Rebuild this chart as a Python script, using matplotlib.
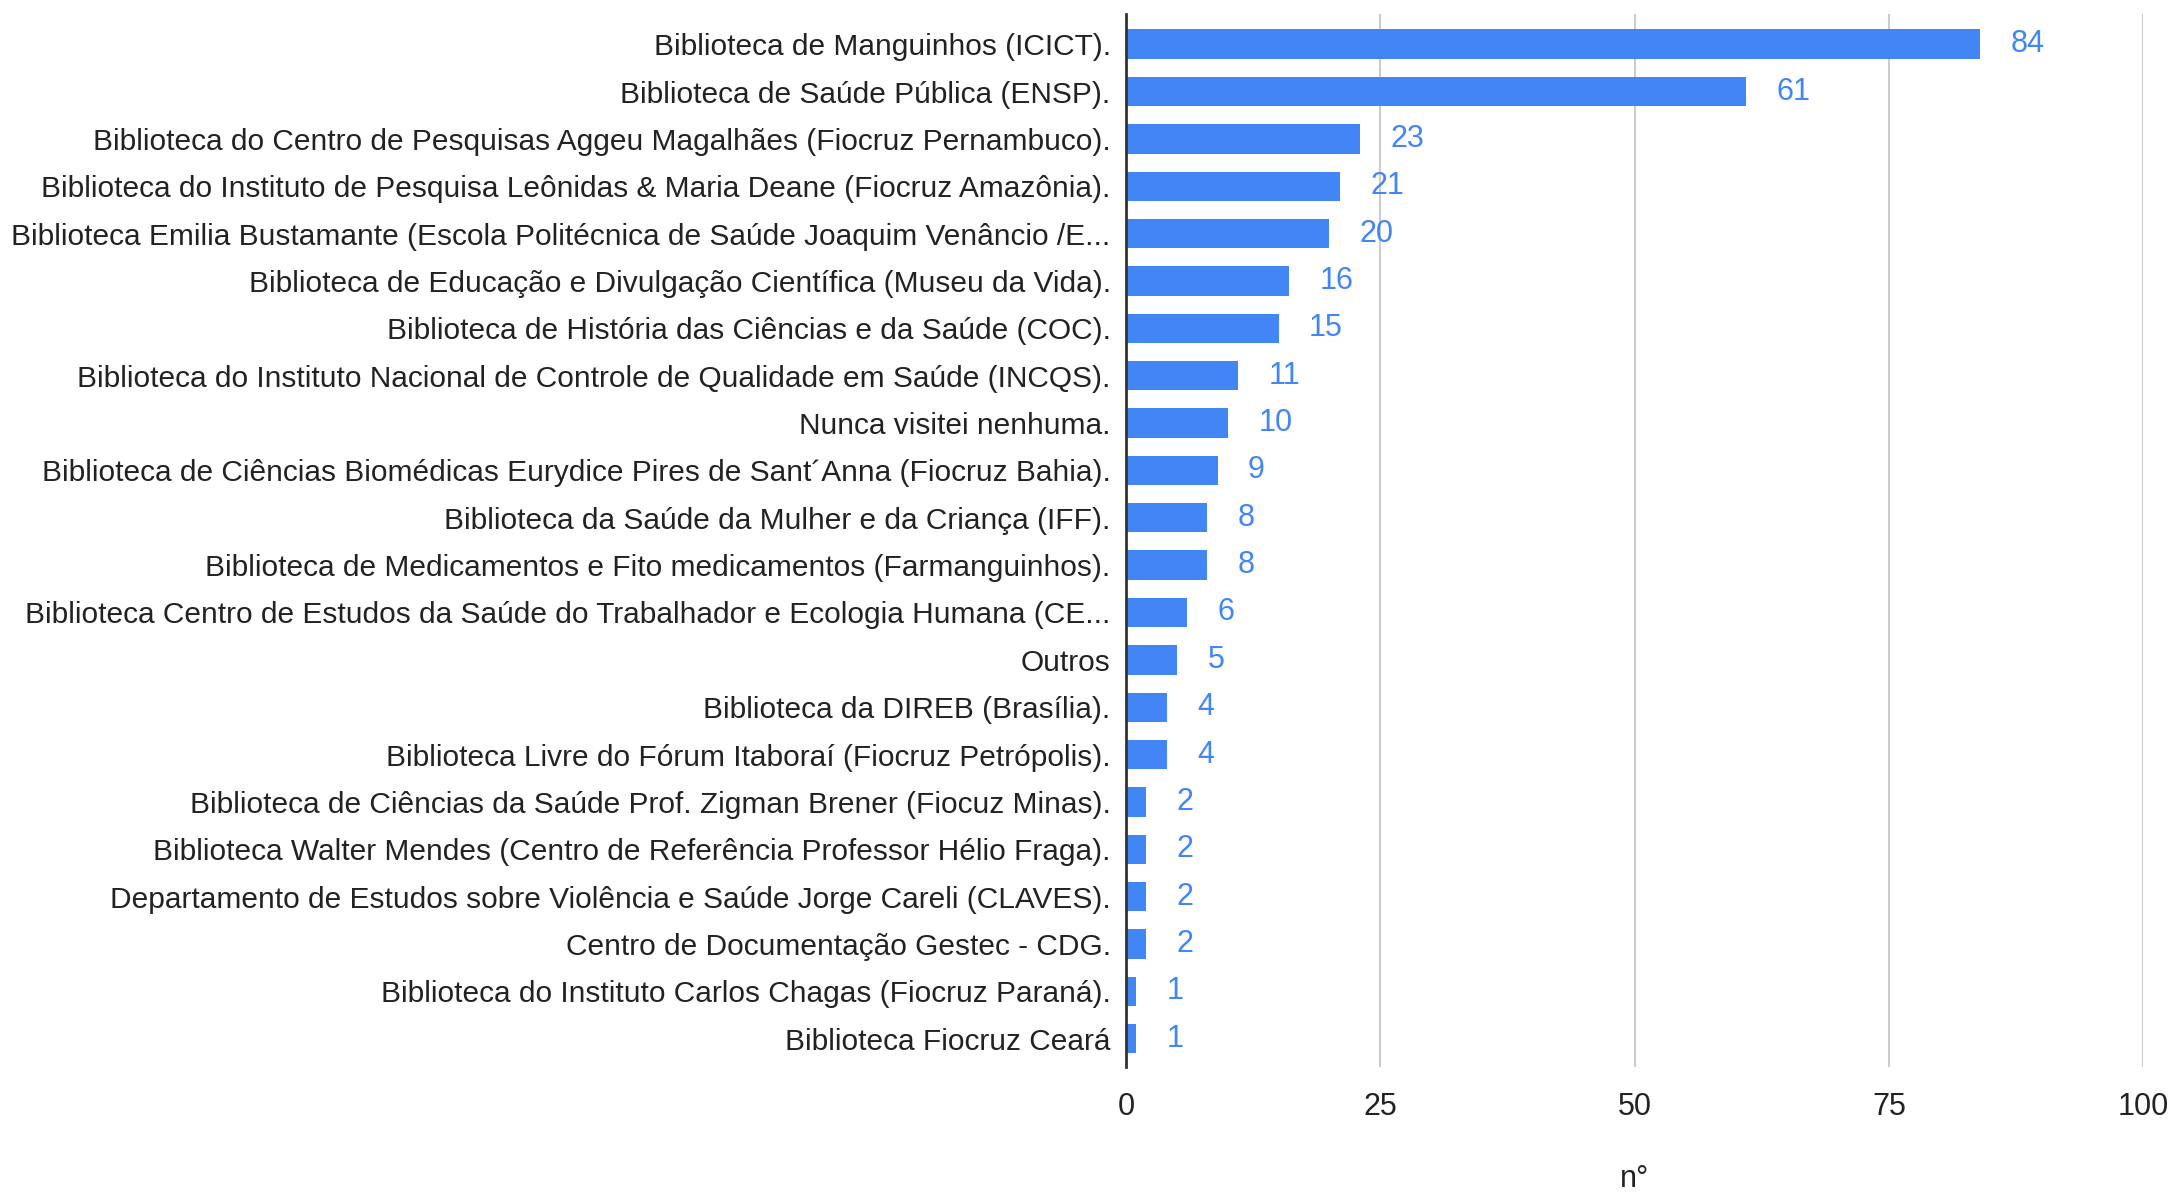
import matplotlib.pyplot as plt
from matplotlib import font_manager

labels = [
    "Biblioteca de Manguinhos (ICICT).",
    "Biblioteca de Saúde Pública (ENSP).",
    "Biblioteca do Centro de Pesquisas Aggeu Magalhães (Fiocruz Pernambuco).",
    "Biblioteca do Instituto de Pesquisa Leônidas & Maria Deane (Fiocruz Amazônia).",
    "Biblioteca Emilia Bustamante (Escola Politécnica de Saúde Joaquim Venâncio /E...",
    "Biblioteca de Educação e Divulgação Científica (Museu da Vida).",
    "Biblioteca de História das Ciências e da Saúde (COC).",
    "Biblioteca do Instituto Nacional de Controle de Qualidade em Saúde (INCQS).",
    "Nunca visitei nenhuma.",
    "Biblioteca de Ciências Biomédicas Eurydice Pires de Sant´Anna (Fiocruz Bahia).",
    "Biblioteca da Saúde da Mulher e da Criança (IFF).",
    "Biblioteca de Medicamentos e Fito medicamentos (Farmanguinhos).",
    "Biblioteca Centro de Estudos da Saúde do Trabalhador e Ecologia Humana (CE...",
    "Outros",
    "Biblioteca da DIREB (Brasília).",
    "Biblioteca Livre do Fórum Itaboraí (Fiocruz Petrópolis).",
    "Biblioteca de Ciências da Saúde Prof. Zigman Brener (Fiocuz Minas).",
    "Biblioteca Walter Mendes (Centro de Referência Professor Hélio Fraga).",
    "Departamento de Estudos sobre Violência e Saúde Jorge Careli (CLAVES).",
    "Centro de Documentação Gestec - CDG.",
    "Biblioteca do Instituto Carlos Chagas (Fiocruz Paraná).",
    "Biblioteca Fiocruz Ceará",
]
values = [84, 61, 23, 21, 20, 16, 15, 11, 10, 9, 8, 8, 6, 5, 4, 4, 2, 2, 2, 2, 1, 1]
xticks = [0, 25, 50, 75, 100]

names = {f.name for f in font_manager.fontManager.ttflist}
family = "Liberation Sans Narrow" if "Liberation Sans Narrow" in names else "Liberation Sans"
plt.rcParams["font.family"] = [family, "DejaVu Sans"]

fig = plt.figure(figsize=(21.72, 11.95), dpi=100)
ax = fig.add_axes([0.5184, 0.107, 0.4683, 0.881])

pos = list(range(len(labels)))
ax.barh(pos, values, height=0.62, color="#4285f4", zorder=3)

for y, v in zip(pos, values):
    ax.annotate(str(v), (v, y), xytext=(22, 0), textcoords="offset points",
                va="center", ha="left", fontsize=22, color="#4285f4")

ax.set_xlim(0, 100)
ax.set_ylim(len(labels) - 0.4, -0.63)
ax.set_yticks(pos)
ax.set_yticklabels(labels, fontsize=21.5, color="#222222")
ax.set_xticks(xticks)
ax.set_xticklabels([str(t) for t in xticks], fontsize=22, color="#222222")
ax.tick_params(axis="both", length=0)
ax.tick_params(axis="y", pad=11)
ax.tick_params(axis="x", pad=18)

ax.grid(axis="x", color="#cccccc", linewidth=1.5, zorder=0)
for side in ["top", "right", "bottom"]:
    ax.spines[side].set_visible(False)
ax.spines["left"].set_color("#333333")
ax.spines["left"].set_linewidth(2)
ax.spines["left"].set_zorder(4)

ax.set_xlabel("n°", fontsize=22, color="#222222", labelpad=30)

plt.savefig("out.png", dpi=100)
